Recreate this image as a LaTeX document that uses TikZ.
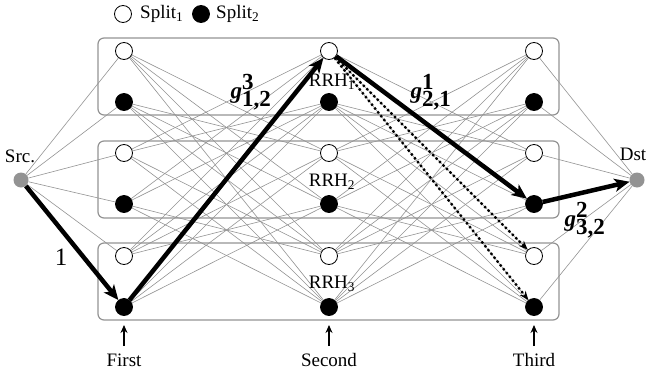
\documentclass[tikz,border=0pt]{standalone}
\usepackage{fontspec}
\setmainfont{Liberation Serif}
\usetikzlibrary{arrows.meta}
\begin{document}
\begin{tikzpicture}[x=1pt,y=-1pt,
  rn/.style={circle,draw=black,line width=0.8pt,minimum size=17pt,inner sep=0pt},
  wn/.style={rn,fill=white},
  bn/.style={rn,fill=black},
  endn/.style={circle,fill=gray!85,minimum size=15pt,inner sep=0pt},
  edge/.style={draw=gray!85,line width=0.6pt},
  grp/.style={draw=gray!85,line width=1.2pt,rounded corners=6pt},
  thk/.style={line width=4.5pt,-{Stealth[length=15pt,width=13pt,inset=4pt]}},
  dots/.style={line width=2.3pt,dash pattern=on 2.3pt off 2.6pt,line cap=butt,-{Stealth[length=9pt,width=7pt]}},
  txt/.style={font=\fontsize{19}{22}\selectfont,inner sep=1pt},
  glab/.style={font=\fontsize{23}{27}\selectfont,inner sep=1pt},
  uparr/.style={line width=1.3pt,-{Stealth[length=8pt,width=7pt]}}
]
\useasboundingbox (0,0) rectangle (647,375);
% groups
\draw[grp] (98,38) rectangle (559,115);
\draw[grp] (98,141) rectangle (559,218);
\draw[grp] (98,243) rectangle (559,320);
% nodes
\foreach \c/\x in {1/124,2/329,3/534}{
  \foreach \r/\y in {1/51,3/153,5/256} \node[wn] (n\c\r) at (\x,\y) {};
  \foreach \r/\y in {2/102,4/204,6/307} \node[bn] (n\c\r) at (\x,\y) {};
}
\node[endn] (src) at (21,180) {};
\node[endn] (dst) at (637,180) {};
% edges between stages
\foreach \c/\d in {1/2,2/3}
 \foreach \r in {1,...,6}
  \foreach \s in {1,...,6}{
    \pgfmathtruncatemacro\gr{(\r+1)/2}
    \pgfmathtruncatemacro\gs{(\s+1)/2}
    \ifnum\gr=\gs\else \draw[edge] (n\c\r) -- (n\d\s); \fi
  }
\foreach \r in {1,...,5} \draw[edge] (src) -- (n1\r);
\foreach \r in {1,...,6} \draw[edge] (n3\r) -- (dst);
% highlighted path
\draw[thk] (src) -- (n16);
\draw[thk] (n16) -- (n21);
\draw[thk] (n21) -- (n34);
\draw[thk] (n34) -- (dst);
\draw[dots] (n21) -- (n35);
\draw[dots] (n21) -- (n36);
% labels
\node[txt] (srcl) at (20,156) {Src.};
\node[txt] (dstl) at (633,154) {Dst};
\node[txt] (r1) at (332,82) {RRH\textsubscript{1}};
\node[txt] (r2) at (332,182) {RRH\textsubscript{2}};
\node[txt] (r3) at (332,284) {RRH\textsubscript{3}};
\node[glab] (g1) at (251,92) {$\textbf{\textit{g}}^{\textbf{3}}_{\textbf{1,2}}$};
\node[glab] (g2) at (431,92) {$\textbf{\textit{g}}^{\textbf{1}}_{\textbf{2,1}}$};
\node[glab] (g3) at (585,220) {$\textbf{\textit{g}}^{\textbf{2}}_{\textbf{3,2}}$};
\node[glab,font=\fontsize{25}{29}\selectfont] (one) at (61,257) {1};
% legend
\node[wn] (lg1) at (123,14) {};
\node[txt,anchor=west] (lt1) at (139,14) {Split\textsubscript{1}};
\node[bn] (lg2) at (201,14) {};
\node[txt,anchor=west] (lt2) at (215,14) {Split\textsubscript{2}};
% stage markers
\foreach \c/\x/\t in {1/124/First,2/329/Second,3/534/Third}{
  \coordinate (b\c) at (\x,346);
  \coordinate (t\c) at (\x,325);
  \draw[uparr] (b\c) -- (t\c);
  \node[txt] (s\c) at (\x,360) {\t};
}
\end{tikzpicture}
\end{document}
